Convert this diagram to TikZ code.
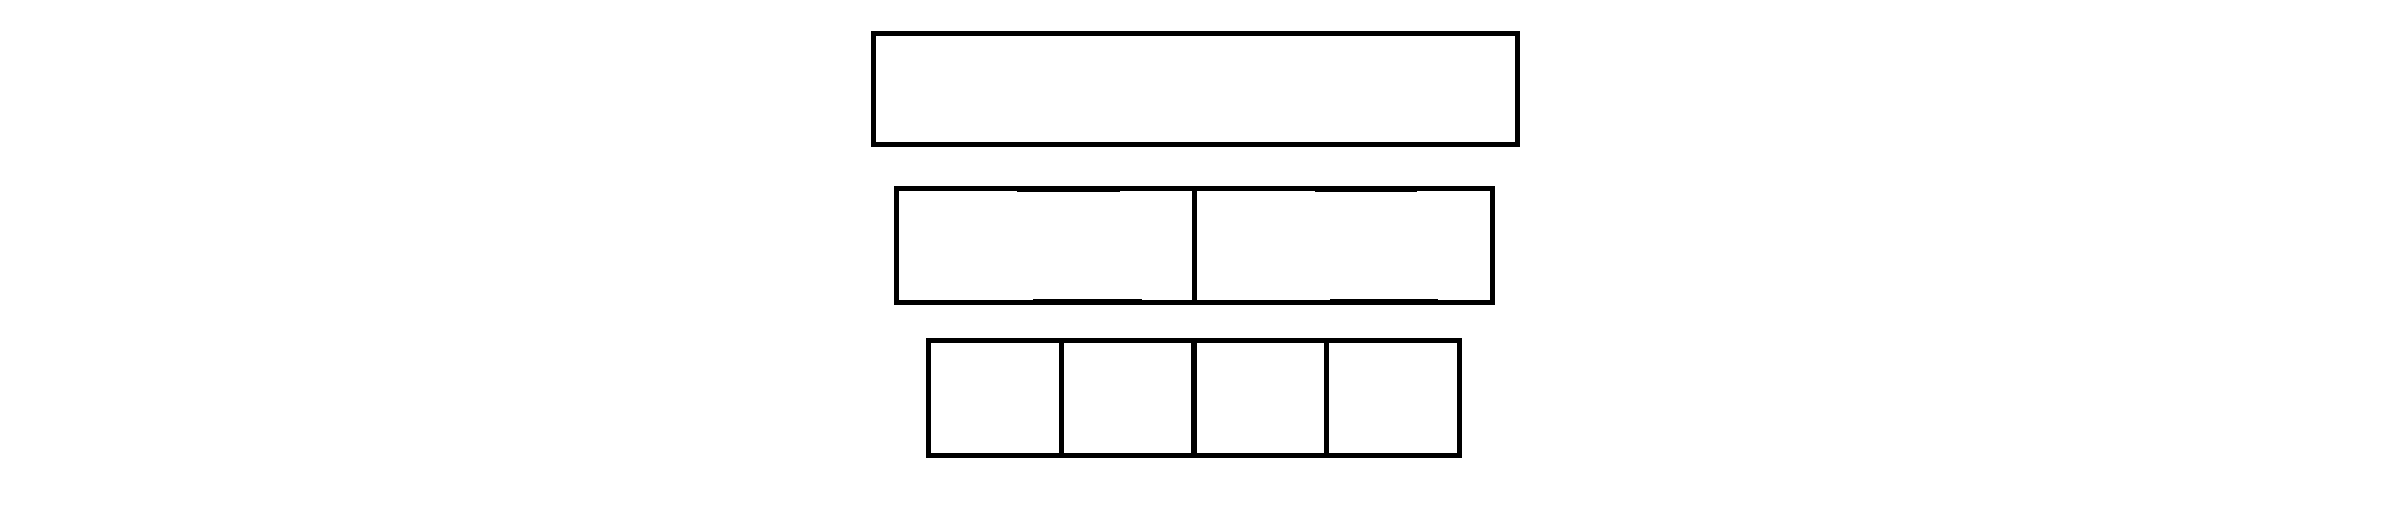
\documentclass[tikz,border=0pt]{standalone}
\begin{document}
\begin{tikzpicture}[x=0.01cm,y=-0.01cm,
  cell/.style={draw=black,line width=1.42pt,inner sep=0pt,outer sep=0pt,rectangle},
  heavy seg/.style={draw=black,line width=1.6pt}]
\useasboundingbox (0,0) rectangle (2400,509);
\node[cell,minimum width=6.43cm,minimum height=1.10cm] (top) at (1195.5,89) {};
\node[cell,minimum width=2.975cm,minimum height=1.13cm] (ml) at (1045.75,245.5) {};
\node[cell,minimum width=2.975cm,minimum height=1.13cm] (mr) at (1343.25,245.5) {};
\node[cell,minimum width=1.325cm,minimum height=1.14cm] (b1) at (995.25,398) {};
\node[cell,minimum width=1.325cm,minimum height=1.14cm] (b2) at (1127.75,398) {};
\node[cell,minimum width=1.325cm,minimum height=1.14cm] (b3) at (1260.25,398) {};
\node[cell,minimum width=1.325cm,minimum height=1.14cm] (b4) at (1392.75,398) {};
% slightly heavier stretches on the middle row edges
\draw[heavy seg] (1017,189) -- (1120,189);
\draw[heavy seg] (1315,189) -- (1417,189);
\draw[heavy seg] (1033,302) -- (1142,302);
\draw[heavy seg] (1330,302) -- (1438,302);
\end{tikzpicture}
\end{document}
